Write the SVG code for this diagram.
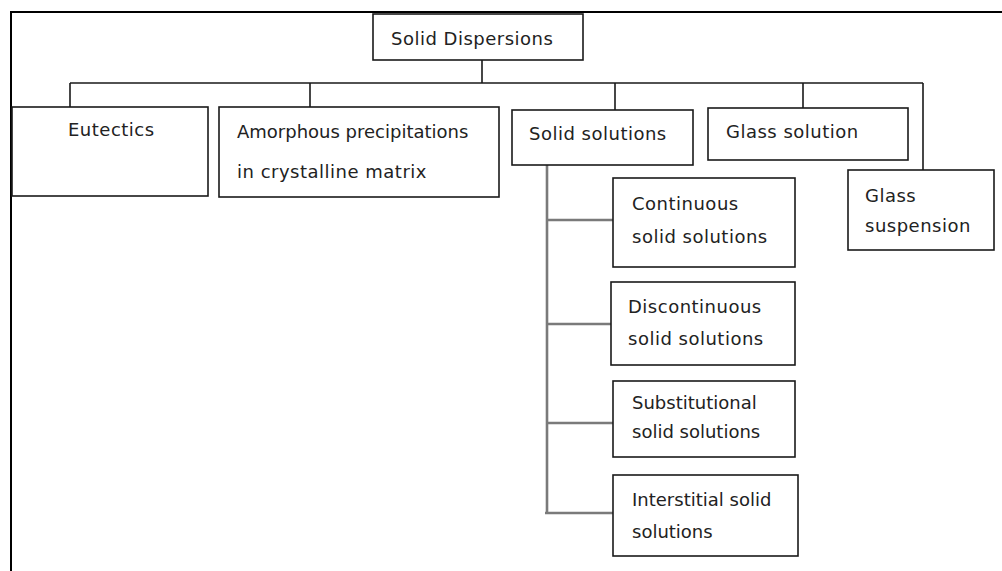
<svg xmlns="http://www.w3.org/2000/svg" width="1002" height="571" viewBox="0 0 1002 571">
<style>
.box{fill:#fff;stroke:#1a1a1a;stroke-width:1.6}
.ln{stroke:#1a1a1a;stroke-width:1.6;fill:none}
.gl{stroke:#7a7a7a;stroke-width:2.6;fill:none}
.frame{stroke:#000;stroke-width:2;fill:none}
text{font-family:"DejaVu Sans","Liberation Sans",sans-serif;font-size:18px;fill:#222;letter-spacing:0.5px}
text.tight{letter-spacing:0}
</style>
<rect width="1002" height="571" fill="#fff"/>
<path class="frame" d="M1002,12 H11 V571"/>
<g id="connectors">
<path class="ln" d="M482,60 V83 M70,83 H923 M70,83 V107 M310,83 V107 M615,83 V110 M803,83 V108 M923,83 V170"/>
<path class="gl" d="M547,165 V513 M547,220 H613 M547,324 H611 M547,423 H613 M545,513 H613"/>
</g>
<g id="n-root"><rect class="box" x="373" y="14" width="210" height="46"/><text x="391" y="45">Solid Dispersions</text></g>
<g id="n-eutectics"><rect class="box" x="12" y="107" width="196" height="89"/><text x="68" y="136">Eutectics</text></g>
<g id="n-amorphous"><rect class="box" x="219" y="107" width="280" height="90"/><text class="tight" x="237" y="138">Amorphous precipitations</text><text x="237" y="178">in crystalline matrix</text></g>
<g id="n-solid"><rect class="box" x="512" y="110" width="181" height="55"/><text x="529" y="140">Solid solutions</text></g>
<g id="n-glass-sol"><rect class="box" x="708" y="108" width="200" height="52"/><text x="726" y="138">Glass solution</text></g>
<g id="n-glass-susp"><rect class="box" x="848" y="170" width="146" height="80"/><text x="865" y="202">Glass</text><text x="865" y="232">suspension</text></g>
<g id="n-continuous"><rect class="box" x="613" y="178" width="182" height="89"/><text x="632" y="210">Continuous</text><text x="632" y="243">solid solutions</text></g>
<g id="n-discontinuous"><rect class="box" x="611" y="282" width="184" height="83"/><text x="628" y="313">Discontinuous</text><text x="628" y="345">solid solutions</text></g>
<g id="n-substitutional"><rect class="box" x="613" y="381" width="182" height="76"/><text class="tight" x="632" y="409">Substitutional</text><text class="tight" x="632" y="438">solid solutions</text></g>
<g id="n-interstitial"><rect class="box" x="613" y="475" width="185" height="81"/><text class="tight" x="632" y="506">Interstitial solid</text><text class="tight" x="632" y="538">solutions</text></g>
</svg>
